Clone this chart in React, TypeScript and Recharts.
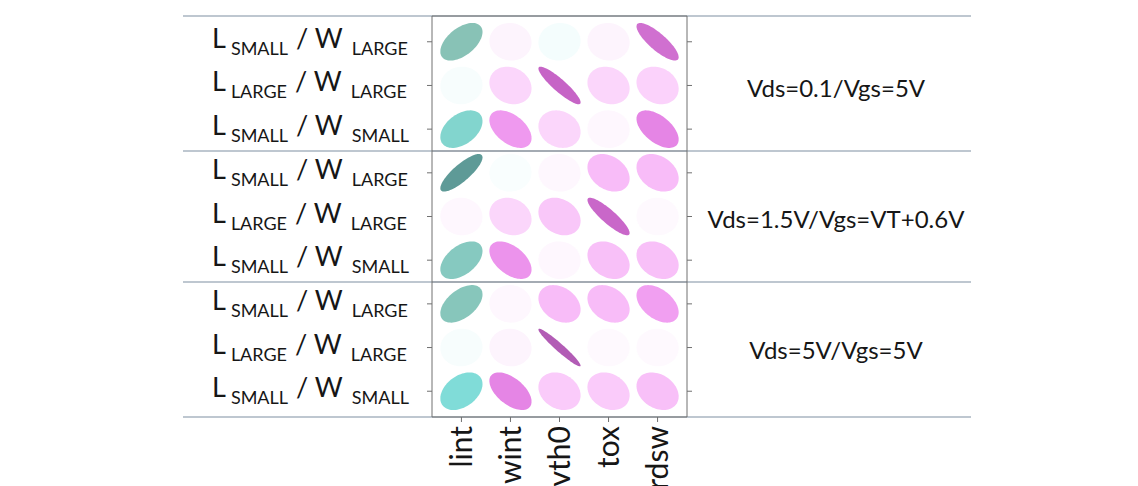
import React from 'react';
import { ScatterChart, Scatter, XAxis, YAxis, ReferenceLine } from 'recharts';

// model parameters (columns) and bias conditions (row groups)
const params = ['lint', 'wint', 'vth0', 'tox', 'rdsw'];
const conditions = ['Vds=0.1/Vgs=5V', 'Vds=1.5V/Vgs=VT+0.6V', 'Vds=5V/Vgs=5V'];
// device geometry per row inside a group: [L size, W size]
const geometries = [
  ['SMALL', 'LARGE'],
  ['LARGE', 'LARGE'],
  ['SMALL', 'SMALL'],
];

// correlation coefficients
const corrLinear = [
  [0.52, -0.04, 0.04, -0.04, -0.82],
  [0.03, -0.16, -0.9, -0.16, -0.18],
  [0.42, -0.48, -0.16, -0.03, -0.55],
];
const corrSat = [
  [0.82, 0.02, -0.03, -0.3, -0.3],
  [-0.03, -0.16, -0.24, -0.88, -0.02],
  [0.48, -0.5, -0.03, -0.28, -0.28],
];
const corrHigh = [
  [0.5, -0.03, -0.3, -0.3, -0.45],
  [0.03, -0.04, -0.96, -0.02, -0.02],
  [0.38, -0.55, -0.22, -0.22, -0.28],
];
const corrByCondition = [corrLinear, corrSat, corrHigh];

const cells = corrByCondition.flatMap((grp, g) =>
  grp.flatMap((row, r) => row.map((v, c) => ({ x: c + 1, y: g * 3 + r + 1, r: v })))
);
const rowTicks = cells.filter((d) => d.x === 1).map((d) => d.y);
const colTicks = params.map((_, i) => i + 1);
const groupBreaks = conditions.slice(1).map((_, i) => (i + 1) * 3 + 0.5);

const W = 1138;
const H = 486;
const LEFT = 432;
const RIGHT = 687;
const TOP = 16;
const BOTTOM = 417;
const X_DOM: [number, number] = [0.4, 5.6];
const Y_DOM: [number, number] = [0.41, 9.59];
const PX = (RIGHT - LEFT) / (X_DOM[1] - X_DOM[0]);
const PY = (BOTTOM - TOP) / (Y_DOM[1] - Y_DOM[0]);
const xAt = (px: number) => X_DOM[0] + (px - LEFT) / PX;

const LEFT_W = 220;
const RIGHT_W = 290;
const TOP_H = 10;
const BOTTOM_H = 60;

const FONT = 'Lato, "Open Sans", sans-serif';
const INK = '#161616';
const AXIS = '#707070';
const RULE = '#a9b5c1';

const posStops: [number, string][] = [
  [0, '#ffffff'], [0.05, '#f1fcfc'], [0.38, '#80dcd8'], [0.52, '#88c2b6'], [0.85, '#5a9694'], [1, '#4a8684'],
];
const negStops: [number, string][] = [
  [0, '#ffffff'], [0.05, '#fdf1fd'], [0.16, '#fbd6fb'], [0.3, '#f8bcf8'], [0.48, '#ef99ef'],
  [0.55, '#e585e5'], [0.82, '#d070d0'], [0.9, '#c664c6'], [1, '#a456aa'],
];

function lerpHex(a: string, b: string, t: number) {
  const pa = [1, 3, 5].map((i) => parseInt(a.slice(i, i + 2), 16));
  const pb = [1, 3, 5].map((i) => parseInt(b.slice(i, i + 2), 16));
  return 'rgb(' + pa.map((v, i) => Math.round(v + (pb[i] - v) * t)).join(',') + ')';
}

function corrColor(r: number) {
  const stops = r >= 0 ? posStops : negStops;
  const v = Math.abs(r);
  for (let i = 1; i < stops.length; i++) {
    if (v <= stops[i][0]) {
      const t = (v - stops[i - 1][0]) / (stops[i][0] - stops[i - 1][0]);
      return lerpHex(stops[i - 1][1], stops[i][1], t);
    }
  }
  return stops[stops.length - 1][1];
}

// plotcorr-style ellipse, t = 0.43 in data units
function CorrEllipse(props: any) {
  const { cx, cy, payload } = props;
  const d = Math.acos(Math.max(-1, Math.min(1, payload.r)));
  const pts: string[] = [];
  for (let k = 0; k < 80; k++) {
    const a = (k / 80) * 2 * Math.PI;
    pts.push(`${cx + 0.43 * Math.cos(a + d / 2) * PX},${cy - 0.43 * Math.cos(a - d / 2) * PY}`);
  }
  return <polygon points={pts.join(' ')} fill={corrColor(payload.r)} />;
}

function RowLabel(props: any) {
  const { y, payload } = props;
  const [l, w] = geometries[(payload.value - 1) % 3];
  return (
    <text x={212} y={y + 6} fontFamily={FONT} fontSize={27} fill={INK}>
      L
      <tspan fontSize={18} dx={5} dy={7}>{l}</tspan>
      <tspan fontSize={27} dx={8} dy={-7}>/ W</tspan>
      <tspan fontSize={18} dx={9} dy={7}>{w}</tspan>
    </text>
  );
}

function GroupLabel(props: any) {
  const { y, payload } = props;
  const g = conditions[(payload.value - 2) / 3];
  if ((payload.value - 2) % 3 !== 0 || !g) return <g />;
  return (
    <text x={836} y={y + 5} textAnchor="middle" dominantBaseline="middle" fontFamily={FONT} fontSize={24} fill={INK}>
      {g}
    </text>
  );
}

function ParamLabel(props: any) {
  const { x, y, payload } = props;
  return (
    <text
      x={x}
      y={y}
      transform={`rotate(-90 ${x} ${y})`}
      textAnchor="end"
      dy="0.36em"
      fontFamily={FONT}
      fontSize={30}
      fill={INK}
    >
      {params[payload.value - 1]}
    </text>
  );
}

export default function App() {
  return (
    <div style={{ width: W, height: H, background: '#fff' }}>
      <style>{'body{margin:0}'}</style>
      <ScatterChart
        width={W}
        height={H}
        margin={{ top: TOP - TOP_H, right: W - RIGHT - RIGHT_W, bottom: H - BOTTOM - BOTTOM_H, left: LEFT - LEFT_W }}
      >
        <XAxis
          xAxisId="b"
          dataKey="x"
          type="number"
          domain={X_DOM}
          ticks={colTicks}
          height={BOTTOM_H}
          stroke={AXIS}
          tickSize={5}
          tickMargin={4}
          tick={<ParamLabel />}
          allowDataOverflow
        />
        <XAxis
          xAxisId="t"
          orientation="top"
          dataKey="x"
          type="number"
          domain={X_DOM}
          ticks={colTicks}
          height={TOP_H}
          stroke={AXIS}
          tickSize={5}
          tick={false}
          allowDataOverflow
        />
        <YAxis
          yAxisId="l"
          dataKey="y"
          type="number"
          reversed
          domain={Y_DOM}
          ticks={rowTicks}
          width={LEFT_W}
          stroke={AXIS}
          tickSize={5}
          tick={<RowLabel />}
          allowDataOverflow
        />
        <YAxis
          yAxisId="r"
          orientation="right"
          dataKey="y"
          type="number"
          reversed
          domain={Y_DOM}
          ticks={rowTicks}
          width={RIGHT_W}
          stroke={AXIS}
          tickSize={5}
          tick={<GroupLabel />}
          allowDataOverflow
        />
        {[Y_DOM[0], ...groupBreaks, Y_DOM[1]].map((v) => (
          <ReferenceLine
            key={v}
            xAxisId="b"
            yAxisId="l"
            segment={[{ x: xAt(183), y: v }, { x: xAt(971), y: v }]}
            stroke={RULE}
            strokeWidth={1.5}
            ifOverflow="visible"
          />
        ))}
        {groupBreaks.map((v) => (
          <ReferenceLine key={'in' + v} xAxisId="b" yAxisId="l" y={v} stroke="#8a9096" strokeWidth={1.2} />
        ))}
        <Scatter data={cells} xAxisId="b" yAxisId="l" shape={<CorrEllipse />} isAnimationActive={false} />
        <Scatter data={cells} xAxisId="t" yAxisId="r" shape={() => <g />} isAnimationActive={false} />
      </ScatterChart>
    </div>
  );
}
